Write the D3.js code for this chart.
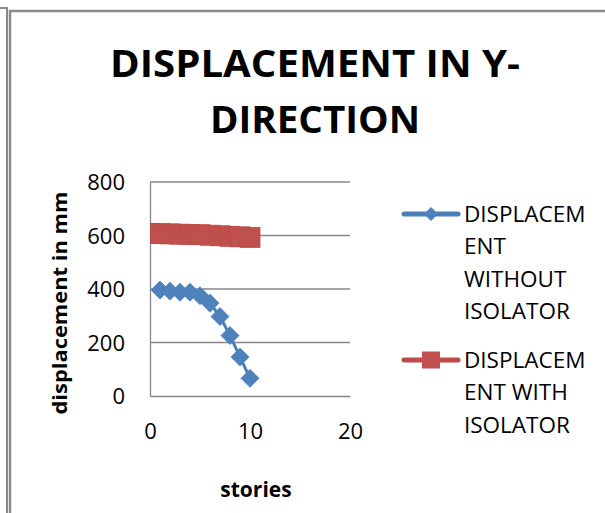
<!DOCTYPE html>
<html><head><meta charset="utf-8">
<script src="https://cdn.jsdelivr.net/npm/d3@7"></script>
<style>html,body{margin:0;padding:0;background:#fff;}svg{display:block;}</style>
</head><body>
<script>
// ---- data ----
const storiesWithout = [1,2,3,4,5,6,7,8,9,10];
const dispWithout = [396,392,388,388,375,347,297,226,146,66];
const storiesWith = [0,1,2,3,4,5,6,7,8,9,10];
const dispWith = [608,607,606,605,604,603,601,599,597,595,593];
const xTicks = [0,10,20];
const yTicks = [0,200,400,600,800];
const titleLines = ["DISPLACEMENT IN Y-","DIRECTION"];
const legendWithout = ["DISPLACEM","ENT","WITHOUT","ISOLATOR"];
const legendWith = ["DISPLACEM","ENT WITH","ISOLATOR"];

const W=605,H=513;
const font="'Open Sans', sans-serif";
const svg=d3.select("body").append("svg").attr("width",W).attr("height",H);
svg.append("rect").attr("width",W).attr("height",H).attr("fill","#fff");

// frame
svg.append("path").attr("d","M0,8H7V513").attr("fill","none").attr("stroke","#8a8a8a").attr("stroke-width",2);
svg.append("path").attr("d","M10,513V11H606").attr("fill","none").attr("stroke","#8a8a8a").attr("stroke-width",2.5);

const x=d3.scaleLinear().domain([0,20]).range([150,350]);
const y=d3.scaleLinear().domain([0,800]).range([396,182]);

// title
const tl=[77,133];
const tw=[410,210];
titleLines.forEach((t,i)=>{
  svg.append("text").attr("x",315).attr("y",tl[i]).attr("text-anchor","middle")
    .attr("font-family",font).attr("font-weight","bold").attr("font-size",38)
    .attr("textLength",tw[i]).attr("lengthAdjust","spacingAndGlyphs").text(t);
});

// gridlines
svg.append("g").selectAll("line").data(yTicks.filter(d=>d>0)).join("line")
  .attr("x1",x(0)).attr("x2",x(20)).attr("y1",d=>y(d)).attr("y2",d=>y(d))
  .attr("stroke","#868686").attr("stroke-width",1.3);

// axes
const yAxis=svg.append("g").attr("transform",`translate(${x(0)},0)`)
  .call(d3.axisLeft(y).tickValues(yTicks).tickSize(0).tickPadding(25));
const xAxis=svg.append("g").attr("transform",`translate(0,${y(0)})`)
  .call(d3.axisBottom(x).tickValues(xTicks).tickSize(0).tickPadding(27));
[yAxis,xAxis].forEach(a=>{
  a.select(".domain").attr("stroke","#868686").attr("stroke-width",1.3);
  a.selectAll("text").attr("font-family",font).attr("font-size",22).attr("fill","#000");
});
yAxis.selectAll("text").attr("dy","0.35em");

// axis titles
svg.append("text").attr("transform","translate(67,303) rotate(-90)").attr("text-anchor","middle")
  .attr("font-family",font).attr("font-weight","bold").attr("font-size",20)
  .attr("textLength",223).attr("lengthAdjust","spacingAndGlyphs").text("displacement in mm");
svg.append("text").attr("x",256).attr("y",497).attr("text-anchor","middle")
  .attr("font-family",font).attr("font-weight","bold").attr("font-size",21).text("stories");

// clip
svg.append("clipPath").attr("id","pc").append("rect")
  .attr("x",x(0)).attr("y",y(800)-10).attr("width",x(20)-x(0)).attr("height",y(0)-y(800)+10);
const plot=svg.append("g").attr("clip-path","url(#pc)");

const blue="#4A7EBB", red="#BE4B48";
const line=d3.line();
const dW=storiesWithout.map((s,i)=>[x(s),y(dispWithout[i])]);
const dR=storiesWith.map((s,i)=>[x(s),y(dispWith[i])]);
plot.append("path").attr("d",line(dR)).attr("fill","none").attr("stroke",red).attr("stroke-width",3);
plot.append("path").attr("d",line(dW)).attr("fill","none").attr("stroke",blue).attr("stroke-width",3);

const sq=20;
plot.append("g").selectAll("rect").data(dR).join("rect")
  .attr("x",d=>d[0]-sq/2).attr("y",d=>d[1]-sq/2).attr("width",sq).attr("height",sq)
  .attr("fill","#C0504D").attr("stroke",red).attr("stroke-width",0.8);
const dm=9;
plot.append("g").selectAll("path").data(dW).join("path")
  .attr("d",d=>`M${d[0]},${d[1]-dm}L${d[0]+dm},${d[1]}L${d[0]},${d[1]+dm}L${d[0]-dm},${d[1]}Z`)
  .attr("fill","#4F81BD").attr("stroke",blue).attr("stroke-width",0.8);

// legend
const lg=svg.append("g");
function legendItem(cy, color, fill, marker, lines){
  lg.append("line").attr("x1",404).attr("x2",458).attr("y1",cy).attr("y2",cy)
    .attr("stroke",color).attr("stroke-width",5).attr("stroke-linecap","round");
  if(marker==="d"){
    const m=7;
    lg.append("path").attr("d",`M431,${cy-m}L${431+m},${cy}L431,${cy+m}L${431-m},${cy}Z`).attr("fill",fill);
  } else {
    lg.append("rect").attr("x",422).attr("y",cy-8.5).attr("width",18).attr("height",17).attr("fill",fill);
  }
  lines.forEach((t,i)=>{
    lg.append("text").attr("x",464).attr("y",cy+i*32.5).attr("dy","0.35em")
      .attr("font-family",font).attr("font-size",22.5).attr("fill","#000").text(t);
  });
}
legendItem(214, blue, "#4F81BD", "d", legendWithout);
legendItem(360, red, "#C0504D", "s", legendWith);
</script>
</body></html>
